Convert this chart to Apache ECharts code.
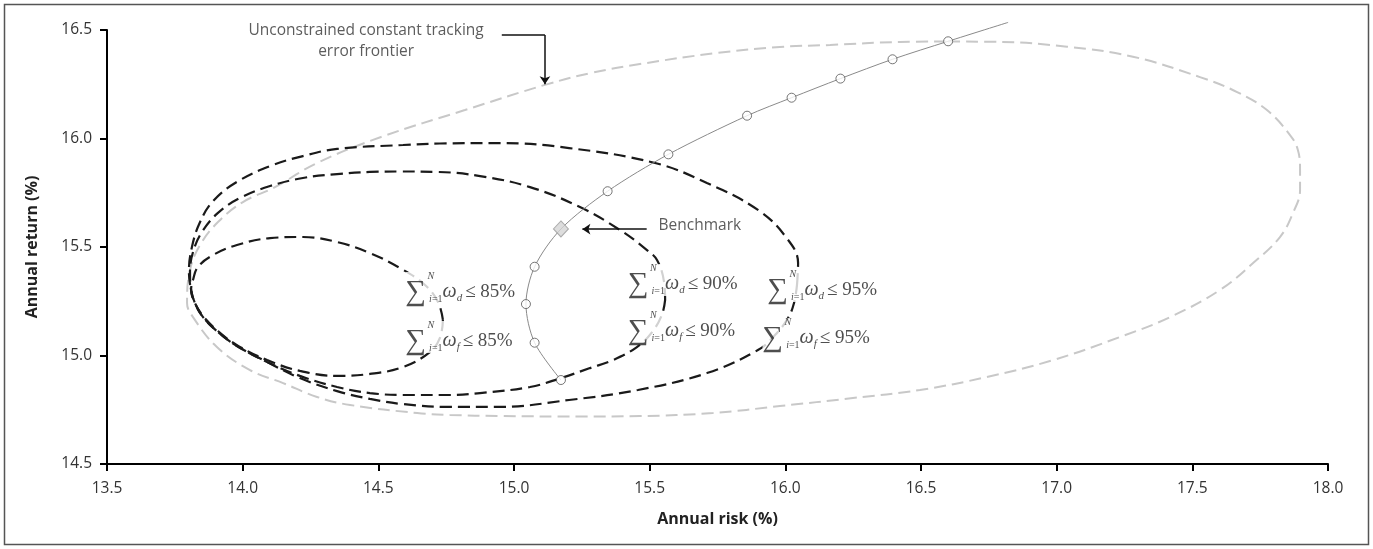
<!DOCTYPE html>
<html><head><meta charset="utf-8">
<script src="https://cdn.jsdelivr.net/npm/echarts@6/dist/echarts.min.js"></script>
<style>html,body{margin:0;padding:0;background:#fff}#c{width:1373px;height:549px}</style>
</head><body><div id="c"></div>
<script>
// ---- data (annual risk %, annual return %) ----
const unconstrainedRisk = [16.600,16.791,17.038,17.281,17.528,17.665,17.775,17.860,17.889,17.897,17.897,17.871,17.823,17.724,17.602,17.418,17.233,16.987,16.743,16.496,16.249,15.980,15.733,15.464,15.243,14.948,14.764,14.643,14.396,14.274,14.149,14.027,13.905,13.817,13.795,13.806,13.843,13.909,14.001,14.119,14.274,14.510,14.819,15.114,15.284,15.464,15.748,15.980,16.165,16.423,16.600];
const unconstrainedReturn = [16.447,16.445,16.423,16.377,16.283,16.214,16.131,16.016,15.947,15.855,15.763,15.657,15.546,15.426,15.302,15.177,15.085,14.979,14.901,14.841,14.804,14.767,14.735,14.721,14.719,14.721,14.726,14.735,14.772,14.809,14.873,14.933,15.039,15.177,15.242,15.394,15.509,15.615,15.707,15.776,15.887,16.007,16.131,16.247,16.302,16.343,16.394,16.422,16.431,16.445,16.447];

const c85Risk = [14.738,14.720,14.672,14.580,14.469,14.348,14.222,14.101,13.979,13.891,13.835,13.817,13.810,13.824,13.854,13.909,13.979,14.090,14.211,14.348,14.469,14.591,14.690,14.727,14.738];
const c85Return = [15.164,15.247,15.325,15.403,15.472,15.523,15.546,15.541,15.509,15.463,15.408,15.348,15.302,15.242,15.182,15.113,15.048,14.979,14.929,14.906,14.915,14.947,15.016,15.081,15.164];

const c90Risk = [15.557,15.553,15.527,15.490,15.391,15.243,15.059,14.875,14.716,14.580,14.469,14.348,14.222,14.101,13.990,13.909,13.850,13.817,13.806,13.810,13.824,13.854,13.909,13.979,14.090,14.211,14.348,14.469,14.591,14.764,14.875,15.059,15.173,15.280,15.365,15.453,15.509,15.545,15.557];
const c90Return = [15.256,15.339,15.440,15.486,15.578,15.684,15.776,15.827,15.846,15.848,15.846,15.836,15.818,15.781,15.726,15.657,15.569,15.477,15.385,15.302,15.242,15.177,15.108,15.044,14.970,14.906,14.855,14.827,14.818,14.818,14.827,14.855,14.896,14.942,14.979,15.039,15.108,15.187,15.256];

const c95Risk = [16.043,16.047,16.002,15.899,15.711,15.520,15.203,14.948,14.727,14.591,14.348,14.222,14.101,13.979,13.891,13.843,13.813,13.802,13.810,13.824,13.854,13.909,13.979,14.090,14.211,14.348,14.469,14.591,14.764,14.948,15.203,15.457,15.711,15.899,15.962,16.010,16.032,16.043];
const c95Return = [15.325,15.426,15.546,15.671,15.795,15.887,15.956,15.979,15.977,15.970,15.952,15.919,15.873,15.800,15.712,15.615,15.500,15.385,15.302,15.242,15.177,15.108,15.044,14.970,14.896,14.836,14.800,14.776,14.763,14.763,14.795,14.841,14.919,15.025,15.094,15.173,15.242,15.325];

const frontierRisk = [15.173,15.076,15.044,15.076,15.173,15.345,15.569,15.859,16.023,16.203,16.395,16.600,16.821];
const frontierReturn = [14.887,15.059,15.237,15.409,15.583,15.757,15.927,16.105,16.188,16.276,16.365,16.448,16.535];

const portfolioRisk = [15.173,15.076,15.044,15.076,15.345,15.569,15.859,16.023,16.203,16.395,16.600];
const portfolioReturn = [14.887,15.059,15.237,15.409,15.757,15.927,16.105,16.188,16.276,16.365,16.448];

const benchmarkRisk = [15.173];
const benchmarkReturn = [15.583];

const xTickValues = [13.5,14.0,14.5,15.0,15.5,16.0,16.5,17.0,17.5,18.0];
const yTickValues = [14.5,15.0,15.5,16.0,16.5];

// annotation anchors (data coordinates) and texts
const constraintLabelRisk = [14.598,14.598,15.418,15.418,15.932,15.914];
const constraintLabelReturn = [15.311,15.085,15.348,15.131,15.320,15.099];
const constraintSub = ['d','f','d','f','d','f'];
const constraintPct = ['85%','85%','90%','90%','95%','95%'];

const trackingText = 'Unconstrained constant tracking\nerror frontier';
const trackingTextPos = [14.455, 16.447];
const trackingArrowH = [[14.955,16.477],[15.114,16.477]];
const trackingArrowV = [[15.114,16.477],[15.114,16.250]];
const benchmarkText = 'Benchmark';
const benchmarkTextPos = [15.531, 15.597];
const benchmarkArrow = [[15.489,15.582],[15.252,15.582]];

// ---- chart ----
const zip = (a,b) => a.map((v,i)=>[v,b[i]]);
const serif = "'Liberation Serif','DejaVu Serif',serif";
const sans = "'Open Sans', Lato, sans-serif";
const ink = '#222';

const rich = {
  pad:{width:22,fontSize:10,lineHeight:8,height:8},
  sup:{fontSize:10,fontStyle:'italic',fontFamily:serif,lineHeight:8,height:8,color:ink},
  sum:{fontSize:29,fontFamily:serif,lineHeight:24,color:ink,verticalAlign:'middle'},
  li:{fontSize:10,fontStyle:'italic',fontFamily:serif,lineHeight:24,verticalAlign:'bottom',color:ink,padding:[0,0,0,3]},
  lim:{fontSize:10,fontFamily:serif,lineHeight:24,verticalAlign:'bottom',color:ink},
  w:{fontSize:20,fontStyle:'italic',fontFamily:serif,lineHeight:24,color:ink,verticalAlign:'middle'},
  sub:{fontSize:11,fontStyle:'italic',fontFamily:serif,lineHeight:24,verticalAlign:'bottom',color:ink,padding:[0,3,0,0]},
  rel:{fontSize:19,fontFamily:serif,lineHeight:24,color:ink,verticalAlign:'middle'}
};

const constraintData = constraintLabelRisk.map((x,i)=>({
  value:[x, constraintLabelReturn[i]],
  label:{formatter:'{pad| }{sup|N}\n{sum|∑}{li|i}{lim|=1}{w|ω}{sub|' + constraintSub[i] + '}{rel|≤ ' + constraintPct[i] + '}'}
}));

const dashedBlack = {color:'#1a1a1a', width:2.2, type:[12,6]};

const option = {
  animation:false,
  backgroundColor:'#fff',
  grid:{left:107,right:45,top:30,bottom:85,containLabel:false},
  xAxis:{
    type:'value', min:13.5, max:18.0, interval:0.5,
    name:'Annual risk (%)', nameLocation:'middle', nameGap:47,
    nameTextStyle:{fontFamily:sans,fontWeight:'bold',fontSize:16,color:ink},
    axisLine:{show:true,onZero:false,lineStyle:{color:'#000',width:2}},
    axisTick:{show:true,length:7,lineStyle:{color:'#000',width:2}},
    axisLabel:{fontFamily:sans,fontSize:15.5,color:'#333',margin:17,
      formatter:v=>xTickValues.includes(+v.toFixed(1))?v.toFixed(1):''},
    splitLine:{show:false}
  },
  yAxis:{
    type:'value', min:14.5, max:16.5, interval:0.5,
    name:'Annual return (%)', nameLocation:'middle', nameGap:67, nameRotate:90,
    nameTextStyle:{fontFamily:sans,fontWeight:'bold',fontSize:16,color:ink},
    axisLine:{show:true,onZero:false,lineStyle:{color:'#000',width:2}},
    axisTick:{show:true,length:7,lineStyle:{color:'#000',width:2}},
    axisLabel:{fontFamily:sans,fontSize:15.5,color:'#333',margin:15,
      formatter:v=>yTickValues.includes(+v.toFixed(1))?v.toFixed(1):''},
    splitLine:{show:false}
  },
  graphic:[{type:'rect',shape:{x:4.5,y:4.5,width:1364,height:540},style:{fill:null,stroke:'#555',lineWidth:1.5},silent:true,z:-1}],
  series:[
    {name:'Unconstrained TE frontier',type:'line',data:zip(unconstrainedRisk,unconstrainedReturn),smooth:0.4,symbol:'none',
      lineStyle:{color:'#c8c8c8',width:2,type:[12,6]},z:2},
    {name:'95%',type:'line',data:zip(c95Risk,c95Return),smooth:0.4,symbol:'none',lineStyle:dashedBlack,z:3},
    {name:'90%',type:'line',data:zip(c90Risk,c90Return),smooth:0.4,symbol:'none',lineStyle:dashedBlack,z:3},
    {name:'85%',type:'line',data:zip(c85Risk,c85Return),smooth:0.4,symbol:'none',lineStyle:dashedBlack,z:3},
    {name:'Frontier',type:'line',data:zip(frontierRisk,frontierReturn),smooth:0.3,symbol:'none',clip:false,
      lineStyle:{color:'#8a8a8a',width:1},z:4},
    {name:'Portfolios',type:'scatter',data:zip(portfolioRisk,portfolioReturn),symbol:'circle',symbolSize:9,
      itemStyle:{color:'#fff',borderColor:'#555',borderWidth:1},z:6},
    {name:'Benchmark',type:'scatter',data:zip(benchmarkRisk,benchmarkReturn),symbol:'diamond',symbolSize:[15,16],
      itemStyle:{color:'#d4d4d4',borderColor:'#9a9a9a',borderWidth:1},z:6},
    {name:'Constraint labels',type:'scatter',data:constraintData,symbolSize:1,itemStyle:{color:'rgba(0,0,0,0)'},z:7,
      label:{show:true,position:'right',distance:0,align:'left',verticalAlign:'middle',
        backgroundColor:'#fff',padding:[0,1,0,0],rich:rich}},
    {name:'Annotations',type:'scatter',symbolSize:1,itemStyle:{color:'rgba(0,0,0,0)'},z:7,
      data:[
        {value:trackingTextPos,label:{show:true,position:'inside',formatter:trackingText,align:'center',verticalAlign:'middle',
          fontFamily:sans,fontSize:15.5,lineHeight:21,color:'#333'}},
        {value:benchmarkTextPos,label:{show:true,position:'right',distance:0,formatter:benchmarkText,align:'left',verticalAlign:'middle',
          fontFamily:sans,fontSize:15.5,color:'#333'}}
      ]},
    {name:'arrow-h',type:'lines',coordinateSystem:'cartesian2d',symbol:['none','none'],
      lineStyle:{color:'#111',width:1.5,opacity:1,curveness:0},data:[{coords:trackingArrowH}],z:8},
    {name:'arrow-v',type:'lines',coordinateSystem:'cartesian2d',symbol:['none','arrow'],symbolSize:8,
      lineStyle:{color:'#111',width:1.5,opacity:1,curveness:0},data:[{coords:trackingArrowV},{coords:benchmarkArrow}],z:8}
  ]
};
const chart = echarts.init(document.getElementById('c'));
chart.setOption(option);
</script>
</body></html>
